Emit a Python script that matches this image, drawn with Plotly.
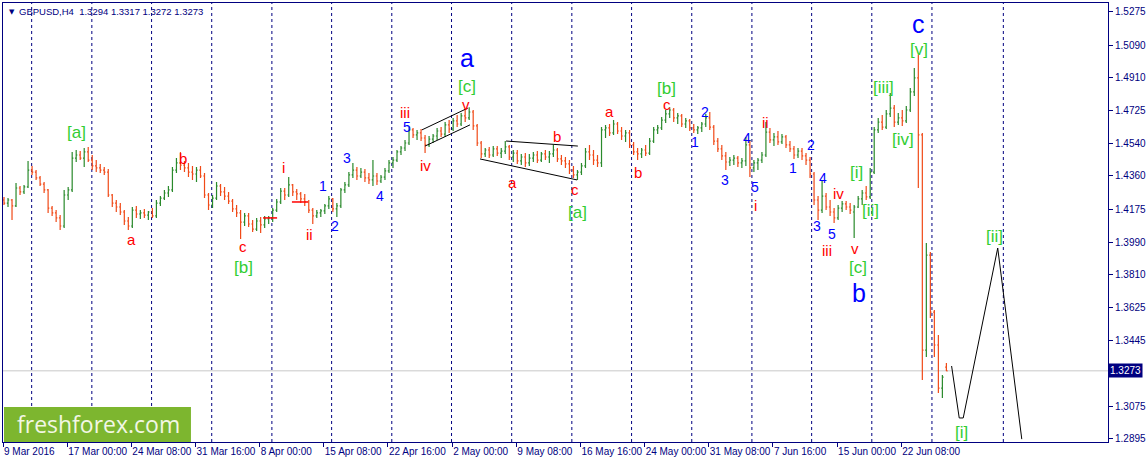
import plotly.graph_objects as go

# GBPUSD H4 bars (each bar here covers two H4 candles)
opens = [1.4226, 1.4209, 1.4226, 1.4193, 1.4293, 1.4271, 1.4299, 1.4393, 1.4382, 1.4349,
         1.4315, 1.4282, 1.4181, 1.4154, 1.4126, 1.4081, 1.4254, 1.4282, 1.4460, 1.4477,
         1.4460, 1.4494, 1.4449, 1.4416, 1.4405, 1.4393, 1.4382, 1.4254, 1.4209, 1.4187,
         1.4159, 1.4109, 1.4081, 1.4170, 1.4148, 1.4154, 1.4142, 1.4159, 1.4137, 1.4209,
         1.4237, 1.4265, 1.4282, 1.4393, 1.4433, 1.4421, 1.4405, 1.4382, 1.4371, 1.4393,
         1.4360, 1.4254, 1.4198, 1.4237, 1.4304, 1.4271, 1.4248, 1.4220, 1.4176, 1.4154,
         1.4103, 1.4137, 1.4092, 1.4064, 1.4109, 1.4087, 1.4120, 1.4126, 1.4170, 1.4215,
         1.4276, 1.4254, 1.4310, 1.4271, 1.4260, 1.4232, 1.4215, 1.4170, 1.4137, 1.4154,
         1.4165, 1.4193, 1.4232, 1.4176, 1.4193, 1.4282, 1.4310, 1.4366, 1.4393, 1.4360,
         1.4382, 1.4349, 1.4338, 1.4360, 1.4332, 1.4354, 1.4388, 1.4433, 1.4449, 1.4494,
         1.4516, 1.4544, 1.4617, 1.4589, 1.4600, 1.4572, 1.4533, 1.4566, 1.4583, 1.4611,
         1.4594, 1.4645, 1.4622, 1.4667, 1.4650, 1.4695, 1.4684, 1.4717, 1.4639, 1.4544,
         1.4483, 1.4505, 1.4477, 1.4511, 1.4488, 1.4499, 1.4522, 1.4466, 1.4488, 1.4444,
         1.4466, 1.4433, 1.4460, 1.4477, 1.4449, 1.4483, 1.4466, 1.4483, 1.4505, 1.4455,
         1.4444, 1.4427, 1.4393, 1.4366, 1.4382, 1.4416, 1.4494, 1.4477, 1.4449, 1.4433,
         1.4617, 1.4628, 1.4600, 1.4650, 1.4611, 1.4583, 1.4600, 1.4533, 1.4494, 1.4483,
         1.4505, 1.4488, 1.4555, 1.4617, 1.4628, 1.4672, 1.4706, 1.4728, 1.4684, 1.4695,
         1.4650, 1.4667, 1.4628, 1.4617, 1.4628, 1.4650, 1.4684, 1.4633, 1.4555, 1.4511,
         1.4472, 1.4438, 1.4449, 1.4460, 1.4433, 1.4444, 1.4533, 1.4405, 1.4433, 1.4449,
         1.4477, 1.4605, 1.4561, 1.4578, 1.4550, 1.4578, 1.4533, 1.4511, 1.4477, 1.4499,
         1.4472, 1.4449, 1.4371, 1.4226, 1.4170, 1.4248, 1.4187, 1.4159, 1.4126, 1.4181,
         1.4204, 1.4187, 1.4159, 1.4187, 1.4232, 1.4265, 1.4243, 1.4382, 1.4617, 1.4661,
         1.4633, 1.4706, 1.4739, 1.4661, 1.4684, 1.4667, 1.4728, 1.4829, 1.4907, 1.4589,
         1.3389, 1.3919, 1.3601, 1.3417, 1.3177, 1.3294]
highs = [1.4243, 1.4237, 1.4232, 1.4321, 1.4304, 1.4310, 1.4444, 1.4416, 1.4393, 1.4360,
         1.4326, 1.4287, 1.4193, 1.4170, 1.4142, 1.4282, 1.4299, 1.4494, 1.4505, 1.4499,
         1.4516, 1.4522, 1.4477, 1.4449, 1.4427, 1.4410, 1.4399, 1.4260, 1.4226, 1.4209,
         1.4170, 1.4131, 1.4187, 1.4193, 1.4170, 1.4176, 1.4165, 1.4181, 1.4226, 1.4248,
         1.4282, 1.4304, 1.4410, 1.4460, 1.4494, 1.4444, 1.4433, 1.4416, 1.4410, 1.4416,
         1.4377, 1.4265, 1.4254, 1.4326, 1.4315, 1.4299, 1.4271, 1.4232, 1.4198, 1.4170,
         1.4154, 1.4154, 1.4114, 1.4126, 1.4131, 1.4137, 1.4137, 1.4181, 1.4232, 1.4293,
         1.4293, 1.4354, 1.4315, 1.4287, 1.4271, 1.4260, 1.4226, 1.4181, 1.4170, 1.4176,
         1.4204, 1.4248, 1.4237, 1.4209, 1.4293, 1.4326, 1.4382, 1.4433, 1.4410, 1.4405,
         1.4399, 1.4377, 1.4449, 1.4377, 1.4366, 1.4405, 1.4449, 1.4466, 1.4505, 1.4527,
         1.4561, 1.4633, 1.4628, 1.4617, 1.4622, 1.4589, 1.4583, 1.4594, 1.4628, 1.4633,
         1.4661, 1.4672, 1.4684, 1.4700, 1.4712, 1.4728, 1.4744, 1.4728, 1.4650, 1.4555,
         1.4516, 1.4522, 1.4527, 1.4527, 1.4516, 1.4555, 1.4533, 1.4505, 1.4505, 1.4483,
         1.4488, 1.4483, 1.4494, 1.4499, 1.4494, 1.4505, 1.4499, 1.4533, 1.4516, 1.4477,
         1.4466, 1.4449, 1.4416, 1.4393, 1.4433, 1.4516, 1.4533, 1.4505, 1.4477, 1.4633,
         1.4645, 1.4650, 1.4672, 1.4661, 1.4633, 1.4617, 1.4617, 1.4550, 1.4516, 1.4516,
         1.4533, 1.4572, 1.4633, 1.4645, 1.4689, 1.4728, 1.4744, 1.4739, 1.4712, 1.4706,
         1.4684, 1.4678, 1.4650, 1.4639, 1.4661, 1.4706, 1.4717, 1.4645, 1.4572, 1.4533,
         1.4494, 1.4466, 1.4477, 1.4472, 1.4460, 1.4578, 1.4561, 1.4449, 1.4460, 1.4494,
         1.4661, 1.4628, 1.4600, 1.4611, 1.4594, 1.4589, 1.4555, 1.4527, 1.4516, 1.4516,
         1.4488, 1.4466, 1.4382, 1.4248, 1.4338, 1.4265, 1.4226, 1.4181, 1.4198, 1.4220,
         1.4220, 1.4209, 1.4198, 1.4248, 1.4282, 1.4304, 1.4405, 1.4633, 1.4684, 1.4700,
         1.4728, 1.4823, 1.4756, 1.4712, 1.4728, 1.4750, 1.4851, 1.4963, 1.5035, 1.4600,
         1.3986, 1.3936, 1.3612, 1.3473, 1.3250, 1.3317]
lows = [1.4198, 1.4187, 1.4114, 1.4187, 1.4254, 1.4260, 1.4293, 1.4366, 1.4338, 1.4304,
        1.4265, 1.4154, 1.4137, 1.4103, 1.4059, 1.4070, 1.4226, 1.4271, 1.4438, 1.4449,
        1.4410, 1.4438, 1.4393, 1.4382, 1.4377, 1.4366, 1.4243, 1.4187, 1.4159, 1.4142,
        1.4087, 1.4059, 1.4070, 1.4126, 1.4120, 1.4126, 1.4114, 1.4126, 1.4126, 1.4193,
        1.4226, 1.4243, 1.4271, 1.4377, 1.4393, 1.4382, 1.4354, 1.4338, 1.4326, 1.4349,
        1.4237, 1.4170, 1.4181, 1.4226, 1.4248, 1.4226, 1.4204, 1.4159, 1.4131, 1.4008,
        1.4081, 1.4075, 1.4047, 1.4053, 1.4042, 1.4070, 1.4092, 1.4103, 1.4159, 1.4204,
        1.4226, 1.4243, 1.4248, 1.4226, 1.4209, 1.4193, 1.4154, 1.4092, 1.4126, 1.4131,
        1.4148, 1.4176, 1.4159, 1.4131, 1.4181, 1.4265, 1.4299, 1.4349, 1.4338, 1.4349,
        1.4326, 1.4315, 1.4304, 1.4310, 1.4321, 1.4338, 1.4377, 1.4405, 1.4438, 1.4477,
        1.4499, 1.4533, 1.4572, 1.4561, 1.4555, 1.4488, 1.4522, 1.4544, 1.4561, 1.4578,
        1.4578, 1.4600, 1.4611, 1.4633, 1.4639, 1.4661, 1.4672, 1.4617, 1.4527, 1.4460,
        1.4466, 1.4460, 1.4466, 1.4472, 1.4460, 1.4483, 1.4449, 1.4438, 1.4427, 1.4421,
        1.4410, 1.4416, 1.4438, 1.4433, 1.4438, 1.4449, 1.4433, 1.4466, 1.4438, 1.4421,
        1.4405, 1.4371, 1.4349, 1.4338, 1.4366, 1.4405, 1.4449, 1.4421, 1.4410, 1.4410,
        1.4572, 1.4583, 1.4589, 1.4594, 1.4561, 1.4550, 1.4516, 1.4477, 1.4449, 1.4460,
        1.4472, 1.4477, 1.4544, 1.4594, 1.4617, 1.4656, 1.4684, 1.4661, 1.4650, 1.4633,
        1.4628, 1.4611, 1.4600, 1.4594, 1.4605, 1.4633, 1.4617, 1.4533, 1.4494, 1.4449,
        1.4393, 1.4416, 1.4421, 1.4410, 1.4405, 1.4416, 1.4354, 1.4382, 1.4393, 1.4433,
        1.4466, 1.4544, 1.4527, 1.4533, 1.4539, 1.4516, 1.4494, 1.4455, 1.4460, 1.4449,
        1.4421, 1.4349, 1.4198, 1.4114, 1.4154, 1.4170, 1.4137, 1.4098, 1.4114, 1.4159,
        1.4170, 1.4148, 1.4014, 1.4181, 1.4198, 1.4226, 1.4232, 1.4371, 1.4600, 1.4617,
        1.4622, 1.4689, 1.4633, 1.4645, 1.4639, 1.4656, 1.4717, 1.4806, 1.4293, 1.3222,
        1.3350, 1.3568, 1.3350, 1.3149, 1.3121, 1.3272]
closes = [1.4209, 1.4226, 1.4193, 1.4293, 1.4271, 1.4299, 1.4393, 1.4382, 1.4349, 1.4315,
          1.4282, 1.4181, 1.4154, 1.4126, 1.4081, 1.4254, 1.4282, 1.4460, 1.4477, 1.4460,
          1.4494, 1.4449, 1.4416, 1.4405, 1.4393, 1.4382, 1.4254, 1.4209, 1.4187, 1.4159,
          1.4109, 1.4081, 1.4170, 1.4148, 1.4154, 1.4142, 1.4159, 1.4137, 1.4209, 1.4237,
          1.4265, 1.4282, 1.4393, 1.4433, 1.4421, 1.4405, 1.4382, 1.4371, 1.4393, 1.4360,
          1.4254, 1.4198, 1.4237, 1.4304, 1.4271, 1.4248, 1.4220, 1.4176, 1.4154, 1.4103,
          1.4137, 1.4092, 1.4064, 1.4109, 1.4087, 1.4120, 1.4126, 1.4170, 1.4215, 1.4276,
          1.4254, 1.4310, 1.4271, 1.4260, 1.4232, 1.4215, 1.4170, 1.4137, 1.4154, 1.4165,
          1.4193, 1.4232, 1.4176, 1.4193, 1.4282, 1.4310, 1.4366, 1.4393, 1.4360, 1.4382,
          1.4349, 1.4338, 1.4360, 1.4332, 1.4354, 1.4388, 1.4433, 1.4449, 1.4494, 1.4516,
          1.4544, 1.4617, 1.4589, 1.4600, 1.4572, 1.4533, 1.4566, 1.4583, 1.4611, 1.4594,
          1.4645, 1.4622, 1.4667, 1.4650, 1.4695, 1.4684, 1.4717, 1.4639, 1.4544, 1.4483,
          1.4505, 1.4477, 1.4511, 1.4488, 1.4499, 1.4522, 1.4466, 1.4488, 1.4444, 1.4466,
          1.4433, 1.4460, 1.4477, 1.4449, 1.4483, 1.4466, 1.4483, 1.4505, 1.4455, 1.4444,
          1.4427, 1.4393, 1.4366, 1.4382, 1.4416, 1.4494, 1.4477, 1.4449, 1.4433, 1.4617,
          1.4628, 1.4600, 1.4650, 1.4611, 1.4583, 1.4600, 1.4533, 1.4494, 1.4483, 1.4505,
          1.4488, 1.4555, 1.4617, 1.4628, 1.4672, 1.4706, 1.4728, 1.4684, 1.4695, 1.4650,
          1.4667, 1.4628, 1.4617, 1.4628, 1.4650, 1.4684, 1.4633, 1.4555, 1.4511, 1.4472,
          1.4438, 1.4449, 1.4460, 1.4433, 1.4444, 1.4533, 1.4405, 1.4433, 1.4449, 1.4477,
          1.4605, 1.4561, 1.4578, 1.4550, 1.4578, 1.4533, 1.4511, 1.4477, 1.4499, 1.4472,
          1.4449, 1.4371, 1.4226, 1.4170, 1.4248, 1.4187, 1.4159, 1.4126, 1.4181, 1.4204,
          1.4187, 1.4170, 1.4187, 1.4232, 1.4265, 1.4243, 1.4382, 1.4617, 1.4661, 1.4633,
          1.4706, 1.4739, 1.4661, 1.4684, 1.4667, 1.4728, 1.4829, 1.4907, 1.4589, 1.3389,
          1.3919, 1.3601, 1.3417, 1.3177, 1.3238, 1.3273]
last_price = 1.3273

# time axis labels (bar index where each label starts)
tick_pos = [-0.25, 15.75, 31.75, 47.75, 63.75, 79.75, 95.75, 111.75, 127.75,
            143.75, 159.75, 175.75, 191.75, 207.75, 223.75]
tick_text = ["9 Mar 2016", "17 Mar 00:00", "24 Mar 08:00", "31 Mar 16:00", "8 Apr 00:00",
             "15 Apr 08:00", "22 Apr 16:00", "2 May 00:00", "9 May 08:00", "16 May 16:00",
             "24 May 00:00", "31 May 08:00", "7 Jun 16:00", "15 Jun 00:00", "22 Jun 08:00"]
price_ticks = [1.5275, 1.5090, 1.4910, 1.4725, 1.4540, 1.4360, 1.4175, 1.3990,
               1.3810, 1.3625, 1.3445, 1.3075, 1.2895]
sep_pos = [6.9, 21.9, 36.8, 51.8, 66.8, 81.7, 96.7, 111.6, 126.6, 141.6,
           156.5, 171.5, 186.5, 201.4, 216.4, 231.4, 249.2]

# wave labels
green_text = ["[a]", "[b]", "[c]", "[a]", "[b]", "[c]", "[i]", "[ii]", "[iii]", "[iv]", "[v]", "[i]", "[ii]"]
green_x = [18.2, 59.6, 115.5, 142.9, 165.3, 213.0, 212.7, 216.0, 219.2, 224.2, 228.2, 238.7, 247.1]
green_y = [1.4605, 1.3852, 1.4860, 1.4159, 1.4850, 1.3847, 1.4382, 1.4170, 1.4851, 1.4566, 1.5063, 1.2931, 1.4020]

red_text = ["a", "b", "c", "i", "ii", "iii", "iv", "v", "a", "b", "c", "a", "b", "c", "i", "ii", "iii", "iv", "v"]
red_x = [31.9, 44.6, 59.6, 69.6, 76.3, 100.0, 105.0, 115.2, 126.9, 137.9, 142.4,
         150.9, 158.1, 165.3, 187.5, 189.8, 205.2, 208.0, 212.2]
red_y = [1.4003, 1.4460, 1.3969, 1.4405, 1.4036, 1.4712, 1.4416, 1.4760, 1.4321, 1.4578, 1.4282,
         1.4717, 1.4382, 1.4760, 1.4198, 1.4661, 1.3947, 1.4265, 1.3958]

blue_text = ["1", "2", "3", "4", "5", "1", "2", "3", "4", "5", "1", "2", "3", "4", "5"]
blue_x = [79.6, 82.5, 85.5, 93.8, 100.5, 172.3, 174.8, 179.8, 185.3, 187.3, 196.8, 201.2, 202.7, 204.2, 206.5]
blue_y = [1.4304, 1.4081, 1.4460, 1.4248, 1.4633, 1.4550, 1.4717, 1.4338, 1.4572, 1.4299,
          1.4405, 1.4533, 1.4081, 1.4349, 1.4036]

big_text = ["a", "b", "c"]
big_x = [115.5, 213.2, 228.0]
big_y = [1.5018, 1.3707, 1.5208]

# drawn lines
chan_up_x, chan_up_y = [104.2, 115.7], [1.4617, 1.4739]
chan_lo_x, chan_lo_y = [105.0, 116.2], [1.4527, 1.4645]
tri_up_x, tri_up_y = [125.2, 143.1], [1.4555, 1.4527]
tri_lo_x, tri_lo_y = [118.7, 142.9], [1.4455, 1.4338]
proj_x = [236.3, 238.2, 239.2, 247.8, 253.8]
proj_y = [1.3300, 1.3010, 1.3010, 1.3958, 1.2892]
mark_x = [[64.6, 68.1], [71.8, 75.8]]
mark_y = [1.4126, 1.4215]

NAVY = "#000080"
FONT = "Liberation Sans, Arial, sans-serif"

fig = go.Figure()

fig.add_trace(go.Ohlc(
    x=list(range(len(opens))), open=opens, high=highs, low=lows, close=closes,
    increasing=dict(line=dict(color="#2A8A2C", width=1.2)),
    decreasing=dict(line=dict(color="#F04A18", width=1.2)),
    tickwidth=0.3, showlegend=False, hoverinfo="skip"))

for lx, ly in [(chan_up_x, chan_up_y), (chan_lo_x, chan_lo_y),
               (tri_up_x, tri_up_y), (tri_lo_x, tri_lo_y), (proj_x, proj_y)]:
    fig.add_trace(go.Scatter(x=lx, y=ly, mode="lines", line=dict(color="black", width=1),
                             showlegend=False, hoverinfo="skip"))
for lx, ly in zip(mark_x, mark_y):
    fig.add_trace(go.Scatter(x=lx, y=[ly, ly], mode="lines", line=dict(color="red", width=1.5),
                             showlegend=False, hoverinfo="skip"))

# period separators
for sx in sep_pos:
    fig.add_shape(type="line", xref="x", yref="paper", x0=sx, x1=sx, y0=0, y1=1,
                  line=dict(color=NAVY, width=1, dash="3px,3px"), layer="below")

# current price line
fig.add_shape(type="line", xref="paper", yref="y", x0=0, x1=1, y0=last_price, y1=last_price,
              line=dict(color="#C8C8C8", width=1), layer="below")


def add_labels(texts, xs, ys, color, size):
    for t, x, y in zip(texts, xs, ys):
        fig.add_annotation(x=x, y=y, text=t, showarrow=False,
                           font=dict(family=FONT, size=size, color=color))


add_labels(green_text, green_x, green_y, "#32CD32", 17)
add_labels(red_text, red_x, red_y, "#FF0000", 15)
add_labels(blue_text, blue_x, blue_y, "#0000FF", 14)
add_labels(big_text, big_x, big_y, "#0000FF", 25)

# price box on the axis
fig.add_annotation(xref="paper", x=1, xanchor="left", y=last_price, text="1.3273",
                   showarrow=False, bgcolor=NAVY, borderpad=1,
                   font=dict(family=FONT, size=10, color="white"))

# header
fig.add_annotation(xref="paper", yref="paper", x=0, y=1, xanchor="left", yanchor="top",
                   xshift=4, yshift=-3, text="▼", showarrow=False,
                   font=dict(family="DejaVu Sans", size=7, color=NAVY))
fig.add_annotation(xref="paper", yref="paper", x=0, y=1, xanchor="left", yanchor="top",
                   xshift=14, yshift=-1, text="GBPUSD,H4  1.3294 1.3317 1.3272 1.3273",
                   showarrow=False, font=dict(family=FONT, size=9.5, color=NAVY))

# watermark
fig.add_shape(type="rect", xref="paper", yref="paper", x0=0.0009, x1=0.1701, y0=0.0, y1=0.0797,
              fillcolor="#7DB62F", line=dict(width=0), layer="above")
fig.add_annotation(xref="paper", yref="paper", x=0.0865, y=0.04, xanchor="center", yanchor="middle",
                   text="freshforex.com", showarrow=False,
                   font=dict(family="Open Sans", size=23, color="#F2F7E4"))

fig.update_layout(
    width=1147, height=463,
    margin=dict(l=3, r=39, t=3, b=21, autoexpand=False),
    paper_bgcolor="white", plot_bgcolor="white",
    xaxis=dict(range=[-0.25, 275.3], showgrid=False, zeroline=False, rangeslider=dict(visible=False),
               showline=True, linecolor=NAVY, linewidth=1, mirror=True, automargin=False,
               tickmode="array", tickvals=tick_pos, ticktext=tick_text, tickangle=0,
               ticks="outside", ticklen=4, tickcolor=NAVY,
               ticklabelposition="outside right",
               tickfont=dict(family=FONT, size=10, color=NAVY)),
    yaxis=dict(range=[1.2876, 1.5325], side="right", showgrid=False, zeroline=False,
               showline=True, linecolor=NAVY, linewidth=1, mirror=True, automargin=False,
               tickmode="array", tickvals=price_ticks, ticktext=[f"{v:.4f}" for v in price_ticks],
               ticks="outside", ticklen=4, tickcolor=NAVY,
               tickfont=dict(family=FONT, size=10, color=NAVY)),
)

# the page has a default body margin; drop it so the figure sits at the window's corner
fig.write_html("out.html", config={"displayModeBar": False},
               post_script="document.body.style.margin='0';")
